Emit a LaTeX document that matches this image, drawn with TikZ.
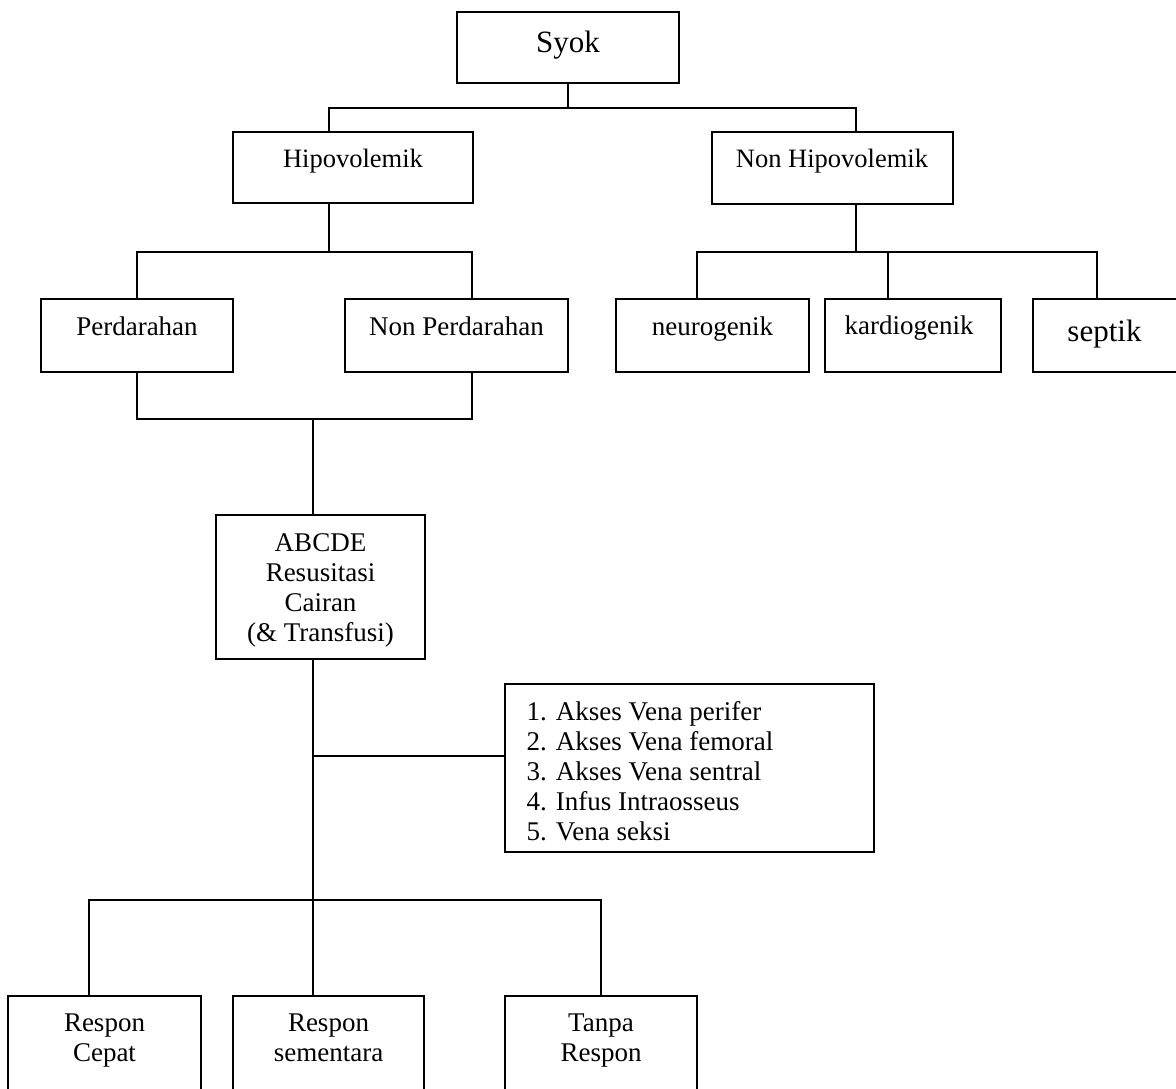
\documentclass[tikz,border=0pt]{standalone}
\usepackage{fontspec}
\setmainfont{Liberation Serif}
\usetikzlibrary{calc}
\newcommand\mkbox[5]{\node[box,minimum width=#4pt,minimum height=#5pt] (#1) at (#2,#3) {};}
\begin{document}
\begin{tikzpicture}[x=1pt,y=-1pt,line width=1.3pt,
  box/.style={draw,line width=1.3pt,inner sep=0pt,outer sep=0pt,anchor=north west},
  lbl/.style={inner sep=0pt,anchor=base,font=\fontsize{27}{30}\selectfont},
  midf/.style={font=\fontsize{26.5}{30}\selectfont},
  bigf/.style={font=\fontsize{31}{36}\selectfont},
  ml/.style={inner sep=0pt,align=center,font=\fontsize{27}{30}\selectfont},
  conn/.style={draw,line width=1.3pt}]
\clip (0,0) rectangle (1176,1088);
\fill[white] (0,0) rectangle (1176,1088);
% boxes
\mkbox{syok}{457}{12}{222}{71}
\mkbox{hipo}{233}{132}{240}{71}
\mkbox{nonhipo}{712}{132}{241}{72}
\mkbox{perd}{41}{299}{192}{73}
\mkbox{nonperd}{345}{299}{223}{73}
\mkbox{neuro}{616}{299}{193}{73}
\mkbox{kardio}{825}{299}{176}{73}
\mkbox{septik}{1033}{299}{160}{73}
\mkbox{abcde}{216}{515}{209}{144}
\mkbox{list}{505}{684}{369}{168}
\mkbox{cepat}{8}{996}{193}{110}
\mkbox{sementara}{233}{996}{191}{110}
\mkbox{tanpa}{505}{996}{192}{110}
% labels
\node[lbl,bigf] (tsyok) at (568,52) {Syok};
\node[lbl,midf] (thipo) at (353,167) {Hipovolemik};
\node[lbl,midf] (tnonhipo) at (832,167) {Non Hipovolemik};
\node[lbl] (tperd) at (137,335) {Perdarahan};
\node[lbl] (tnonperd) at (456.5,335) {Non Perdarahan};
\node[lbl] (tneuro) at (712.5,335) {neurogenik};
\node[lbl] (tkardio) at (909,334) {kardiogenik};
\node[lbl,bigf] (tseptik) at (1104.5,341) {septik};
\node[ml] (tabcde) at (320.5,590) {ABCDE\\Resusitasi\\Cairan\\(\& Transfusi)};
\node[ml,align=left,anchor=north west] (tlist) at (526,700.5) {1. Akses Vena perifer\\2. Akses Vena femoral\\3. Akses Vena sentral\\4. Infus Intraosseus\\5. Vena seksi};
\node[ml] (tcepat) at (104.5,1041) {Respon\\Cepat};
\node[ml] (tsementara) at (328.5,1038) {Respon\\sementara};
\node[ml] (ttanpa) at (601,1041) {Tanpa\\Respon};
% connectors
\draw[conn] (syok.south) -- ++(0,25);
\draw[conn] ($(hipo.north west)+(96,0)$) -- ++(0,-24) -| ($(nonhipo.north west)+(144,0)$);
\draw[conn] ($(hipo.south west)+(96,0)$) -- ++(0,49);
\draw[conn] ($(perd.north west)+(96,0)$) -- ++(0,-47) -| ($(nonperd.north west)+(127,0)$);
\draw[conn] ($(perd.south west)+(96,0)$) -- ++(0,47) -| ($(nonperd.south west)+(127,0)$);
\draw[conn] ($(abcde.north west)+(97,0)$) -- ++(0,-96);
\draw[conn] ($(nonhipo.south west)+(144,0)$) -- ++(0,48);
\draw[conn] ($(neuro.north west)+(81,0)$) -- ++(0,-47) -| ($(septik.north west)+(64,0)$);
\draw[conn] ($(kardio.north west)+(63,0)$) -- ++(0,-47);
\draw[conn] ($(abcde.south west)+(97,0)$) -- ($(sementara.north west)+(80,0)$);
\draw[conn] ($(list.north west)+(0,72)$) -- ($(list.north west -| abcde.south west)+(97,72)$);
\draw[conn] ($(cepat.north west)+(81,0)$) -- ++(0,-96) -| ($(tanpa.north west)+(96,0)$);
\end{tikzpicture}
\end{document}
